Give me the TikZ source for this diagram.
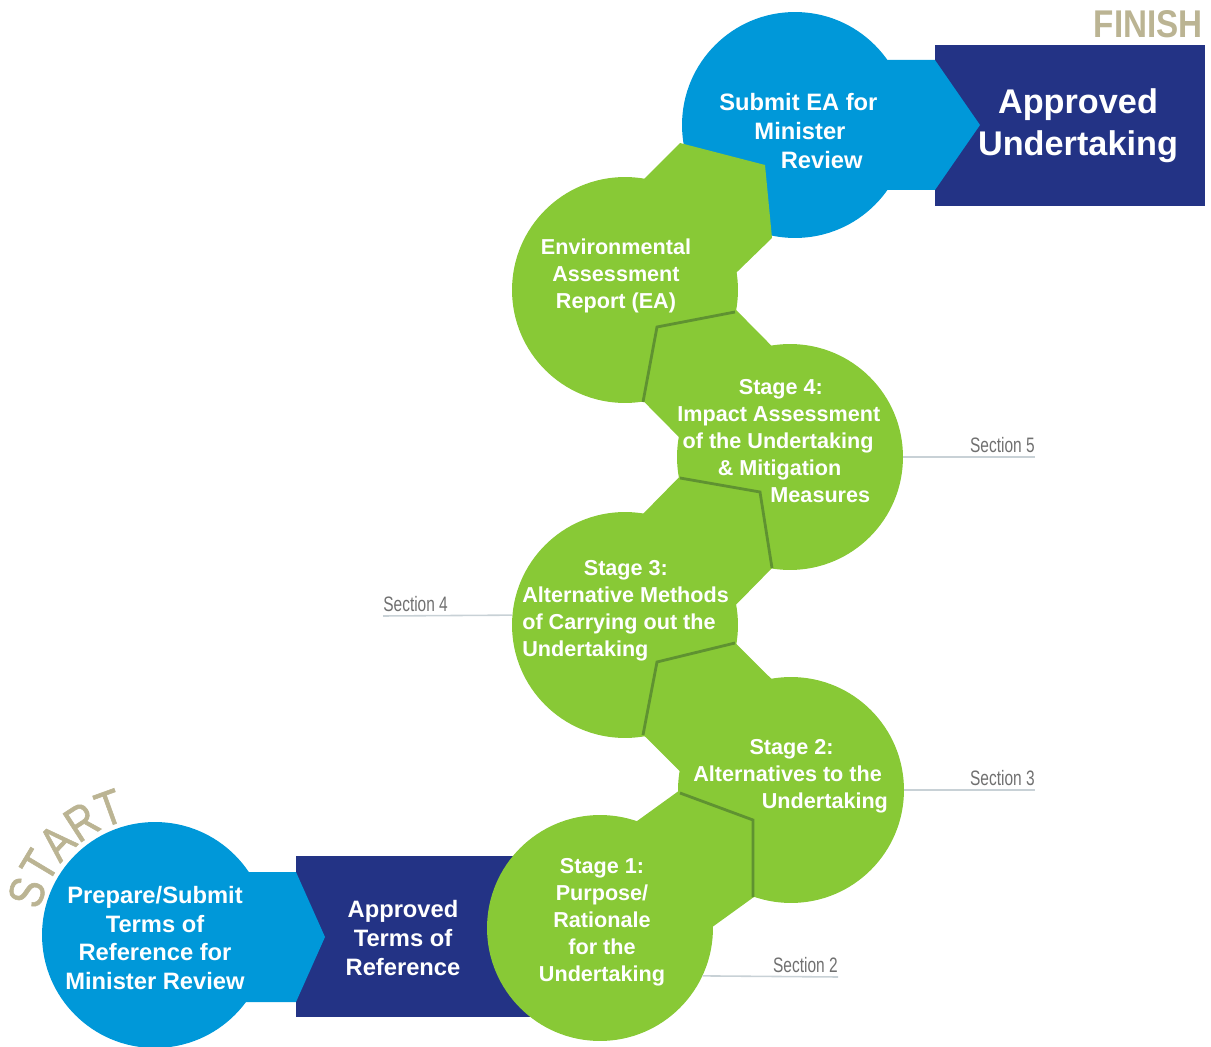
\documentclass[tikz,border=0pt]{standalone}
\usepackage{fontspec}
\setmainfont{Liberation Sans}
\newfontfamily\tanfont[FakeStretch=0.82, FakeBold=1.2]{Liberation Sans}
\usetikzlibrary{positioning, decorations.text}

\definecolor{skyblue}{HTML}{0098D9}
\definecolor{navyblue}{HTML}{233385}
\definecolor{leaf}{HTML}{88C936}
\definecolor{darkleaf}{HTML}{5F9231}
\definecolor{tancol}{HTML}{BBB493}
\definecolor{rulecol}{HTML}{C8D1D6}
\definecolor{graytext}{HTML}{707070}

\newcommand{\sect}[1]{\scalebox{0.74}[1]{Section #1}}

\begin{document}
\begin{tikzpicture}[x=0.02cm, y=0.02cm,
    disc/.style = {circle, minimum size=4.52cm, inner sep=0pt},
    green disc/.style = {disc, fill=leaf},
    blue disc/.style = {disc, fill=skyblue},
    band/.style = {leaf, line width=2.6cm, line join=round},
    divider/.style = {darkleaf, line width=1.6pt},
    whitetext/.style = {text=white, font=\bfseries\fontsize{13.5}{16.4}\selectfont, align=center, inner sep=0pt},
    stagetext/.style = {whitetext, font=\bfseries\fontsize{12.3}{15.3}\selectfont},
    seclabel/.style = {text=graytext, font=\fontsize{11.9}{13}\selectfont, inner xsep=0pt, inner ysep=2pt},
    secrule/.style = {rulecol, line width=0.9pt}
  ]
  \useasboundingbox (0,0) rectangle (1211,1046);

  \coordinate (c1) at (600,118);
  \coordinate (c2) at (791,256);
  \coordinate (c3) at (625,421);
  \coordinate (c4) at (790,589);
  \coordinate (c5) at (625,756);
  \coordinate (c6) at (795,921);

  \fill[navyblue] (296,29) rectangle (540,190);
  \fill[skyblue] (150,44) -- (296,44) -- (325,109) -- (296,174) -- (150,174) -- cycle;
  \node[blue disc] (start) at (155,111) {};

  \draw[band] (c1) -- (c2) -- (c3) -- (c4) -- (c5);

  \node[green disc] (st1) at (c1) {};
  \node[green disc] (st2) at (c2) {};
  \node[green disc] (st3) at (c3) {};
  \node[green disc] (st4) at (c4) {};
  \node[green disc] (ea) at (c5) {};

  \fill[navyblue] (935,840) rectangle (1205,1001);
  \fill[skyblue] (795,856) -- (935,856) -- (980,921) -- (935,986) -- (795,986) -- cycle;
  \node[blue disc] (submit) at (c6) {};
  \fill[leaf] (c5) -- (580,803) -- (680,903) -- (765,881) -- (772,808) -- (670,709) -- cycle;

  \draw[divider] (680,253) -- (753,226) -- (753,149);
  \draw[divider] (735,403) -- (657,384) -- (643,311);
  \draw[divider] (680,568) -- (760,554) -- (772,478);
  \draw[divider] (735,734) -- (657,719) -- (643,644);

  \node[whitetext] (tstart) at (155,108) {Prepare/Submit\\Terms of\\Reference for\\Minister Review};
  \node[whitetext] (ttor) at (403,108) {Approved\\Terms of\\Reference};
  \node[stagetext] (t1) at (602,124) {Stage 1:\\Purpose/\\Rationale\\for the\\Undertaking};
  \node[stagetext, anchor=west, align=left] (t2) at (693,270) {\hspace*{32pt}Stage 2:\\Alternatives to the\\\hspace*{39pt}Undertaking};
  \node[stagetext, anchor=west, align=left] (t3) at (522,435) {\hspace*{35pt}Stage 3:\\Alternative Methods\\of Carrying out the\\Undertaking};
  \node[stagetext, anchor=west, align=left] (t4) at (677,605) {\hspace*{35pt}Stage 4:\\Impact Assessment\\\hspace*{3pt}of the Undertaking\\\hspace*{23pt}\& Mitigation\\\hspace*{53pt}Measures};
  \node[stagetext] (t5) at (616,770) {Environmental\\Assessment\\Report (EA)};
  \node[whitetext, anchor=west, align=left] (t6) at (719,915) {Submit EA for\\\hspace*{20pt}Minister\\\hspace*{35pt}Review};
  \node[whitetext, font=\bfseries\fontsize{19.5}{23.8}\selectfont] (tend) at (1078,920) {Approved\\Undertaking};

  \node[seclabel, anchor=south east] (sec2) at (838,69) {\sect{2}};
  \node[seclabel, anchor=south east] (sec3) at (1035,256) {\sect{3}};
  \node[seclabel, anchor=south west] (sec4) at (383,430) {\sect{4}};
  \node[seclabel, anchor=south east] (sec5) at (1035,589) {\sect{5}};
  \draw[secrule] (st1.-25.7) -- (sec2.south east);
  \draw[secrule] (st2.east) -- (sec3.south east);
  \draw[secrule] (sec4.south west) -- (st3.175.4);
  \draw[secrule] (st4.east) -- (sec5.south east);

  \node[text=tancol, anchor=north east, inner sep=0pt, font=\bfseries\fontsize{22}{22}\selectfont] (finish) at (1203,1036) {\scalebox{0.86}[1]{FINISH}};
  \path[decorate, decoration={text along path, text align=center, text color=tancol,
      text={|\tanfont\fontsize{28}{28}\selectfont|START}}]
    (start) ++(178:118) arc[start angle=178, end angle=94, radius=118];
\end{tikzpicture}
\end{document}
